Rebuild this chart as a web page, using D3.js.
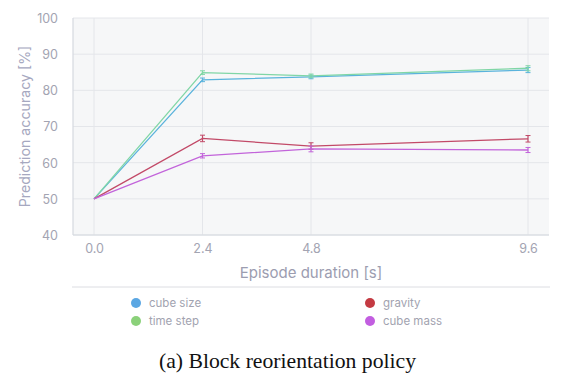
<!DOCTYPE html>
<html><head><meta charset="utf-8">
<script src="https://cdn.jsdelivr.net/npm/d3@7/dist/d3.min.js"></script>
<style>body{margin:0;background:#fff}svg{display:block}</style>
</head><body>
<svg id="c" width="574" height="381"></svg>
<script>
const durations = [0.0, 2.4, 4.8, 9.6];
const xTickLabels = ["0.0", "2.4", "4.8", "9.6"];
const yTicks = [40, 50, 60, 70, 80, 90, 100];
const seriesNames = ["cube size", "time step", "gravity", "cube mass"];
const cubeSize = [50.0, 82.9, 83.7, 85.6];
const timeStep = [50.0, 84.9, 84.0, 86.1];
const gravity  = [50.0, 66.7, 64.6, 66.6];
const cubeMass = [50.0, 61.9, 63.8, 63.5];
const cubeSizeErr = [0, 0.5, 0.5, 0.7];
const timeStepErr = [0, 0.5, 0.5, 0.7];
const gravityErr  = [0, 0.9, 0.9, 0.9];
const cubeMassErr = [0, 0.6, 0.8, 0.7];

const lineColors = ["#5ab3dc", "#80d6a6", "#c24a68", "#c264da"];
const dotColors  = ["#5ba7e3", "#8bd17a", "#c43a42", "#c25ee0"];

const svg = d3.select("#c");
const L = 73, R = 549, T = 18, B = 235;
const x = d3.scaleLinear().domain([0, 9.6]).range([94, 528]);
const y = d3.scaleLinear().domain([40, 100]).range([B, T]);

svg.append("rect").attr("x", L).attr("y", T).attr("width", R - L).attr("height", B - T).attr("fill", "#f6f7f8");

// grid
svg.append("g").selectAll("line").data(yTicks).join("line")
  .attr("x1", L).attr("x2", R).attr("y1", d => y(d)).attr("y2", d => y(d))
  .attr("stroke", "#e4e6ea").attr("stroke-width", 1);
svg.append("g").selectAll("line").data(durations).join("line")
  .attr("x1", d => x(d)).attr("x2", d => x(d)).attr("y1", T).attr("y2", B)
  .attr("stroke", "#e4e6ea").attr("stroke-width", 1);
// axis lines
svg.append("line").attr("x1", L).attr("x2", L).attr("y1", T).attr("y2", B).attr("stroke", "#d6d9df").attr("stroke-width", 1.2);
svg.append("line").attr("x1", L).attr("x2", R).attr("y1", B).attr("y2", B).attr("stroke", "#d6d9df").attr("stroke-width", 1.2);

const font = "Inter, 'Noto Sans', sans-serif";
const tickColor = "#a3a4b2";
// y axis
const yAxis = d3.axisLeft(y).tickValues(yTicks).tickSize(0).tickPadding(0).tickFormat(d3.format("d"));
const yg = svg.append("g").attr("transform", `translate(${58},0)`).call(yAxis);
yg.select(".domain").remove();
yg.selectAll("text").attr("fill", tickColor).attr("font-size", 12.5).attr("font-family", font).attr("dy", "0.35em");
// x axis
const xAxis = d3.axisBottom(x).tickValues(durations).tickSize(0).tickPadding(0).tickFormat((d, i) => xTickLabels[i]);
const xg = svg.append("g").attr("transform", `translate(0,${249})`).call(xAxis);
xg.select(".domain").remove();
xg.selectAll("text").attr("fill", tickColor).attr("font-size", 12.5).attr("font-family", font).attr("dy", "0.35em");

// titles
svg.append("text").attr("x", 311).attr("y", 278).attr("text-anchor", "middle")
  .attr("font-size", 15).attr("font-family", font).attr("fill", "#9c9db0").text("Episode duration [s]");
svg.append("text").attr("transform", `translate(30,126.5) rotate(-90)`).attr("text-anchor", "middle")
  .attr("font-size", 14.2).attr("font-family", font).attr("fill", "#a6a8c0").text("Prediction accuracy [%]");

// series
const values = [cubeSize, timeStep, gravity, cubeMass];
const errs = [cubeSizeErr, timeStepErr, gravityErr, cubeMassErr];
const line = d3.line().x((d, i) => x(durations[i])).y(d => y(d));
values.forEach((vals, s) => {
  const g = svg.append("g");
  g.append("path").attr("d", line(vals)).attr("fill", "none").attr("stroke", lineColors[s]).attr("stroke-width", 1.3);
  vals.forEach((v, i) => {
    const e = errs[s][i];
    if (e <= 0) return;
    const cx = x(durations[i]);
    g.append("line").attr("x1", cx).attr("x2", cx).attr("y1", y(v - e)).attr("y2", y(v + e)).attr("stroke", lineColors[s]).attr("stroke-width", 1.2);
    [v - e, v + e].forEach(w => g.append("line").attr("x1", cx - 2.5).attr("x2", cx + 2.5).attr("y1", y(w)).attr("y2", y(w)).attr("stroke", lineColors[s]).attr("stroke-width", 1));
  });
});

// legend
svg.append("line").attr("x1", 72).attr("x2", 550).attr("y1", 287).attr("y2", 287).attr("stroke", "#dcdde2").attr("stroke-width", 1);
const legPos = [[136, 303], [136, 321], [370, 303], [370, 321]];
seriesNames.forEach((n, i) => {
  const [lx, ly] = legPos[i];
  svg.append("circle").attr("cx", lx).attr("cy", ly).attr("r", 5).attr("fill", dotColors[i]);
  svg.append("text").attr("x", lx + 13).attr("y", ly).attr("dy", "0.35em").attr("font-size", 11.5)
    .attr("font-family", font).attr("fill", "#a2a3b0").text(n);
});

svg.append("text").attr("x", 287.5).attr("y", 368).attr("text-anchor", "middle")
  .attr("font-size", 21.7).attr("font-family", "'Liberation Serif', 'Times New Roman', serif").attr("fill", "#111").text("(a) Block reorientation policy");
</script>
</body></html>
